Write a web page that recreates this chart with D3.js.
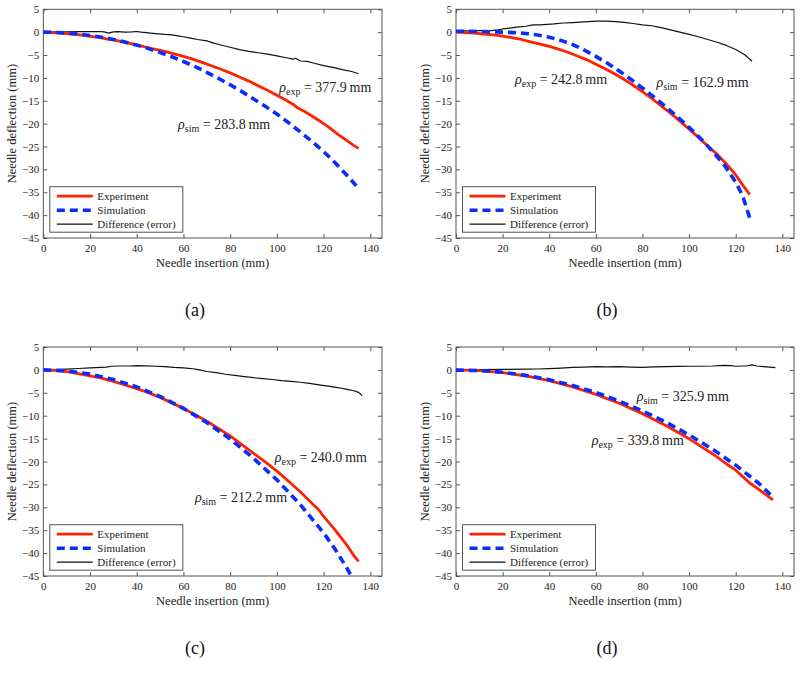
<!DOCTYPE html>
<html><head><meta charset="utf-8">
<script src="https://cdn.jsdelivr.net/npm/d3@7"></script>
<style>body{margin:0;background:#fff}svg{display:block}
svg text{font-family:"Liberation Serif","Times New Roman",Times,"DejaVu Serif",serif !important}</style>
</head><body>
<script>
// ---------- DATA ----------
const xTicks = [0, 20, 40, 60, 80, 100, 120, 140];
const yTicks = [5, 0, -5, -10, -15, -20, -25, -30, -35, -40, -45];
const seriesNames = ["Experiment", "Simulation", "Difference (error)"];
const captions = ["(a)", "(b)", "(c)", "(d)"];
const rhoExp = ["377.9", "242.8", "240.0", "339.8"];
const rhoSim = ["283.8", "162.9", "212.2", "325.9"];

const expA = [[0,0],[3,-0.05],[6,-0.15],[9,-0.25],[12,-0.4],[15,-0.55],[18,-0.75],[21,-0.95],[24,-1.15],[27,-1.45],[30,-1.7],[33,-2.0],[36,-2.35],[40,-2.8],[44,-3.3],[48,-3.75],[52,-4.2],[56,-4.75],[60,-5.3],[64,-5.9],[68,-6.6],[72,-7.35],[76,-8.1],[80,-8.9],[84,-9.8],[88,-10.7],[92,-11.7],[96,-12.7],[100,-13.8],[104,-14.9],[107,-15.8],[109,-16.6],[111,-17.1],[114,-18.0],[118,-19.3],[122,-20.7],[126,-22.3],[130,-23.7],[133,-24.8],[135,-25.4]];
const simA = [[0,0],[5,-0.04],[10,-0.18],[15,-0.4],[20,-0.71],[25,-1.1],[30,-1.59],[35,-2.17],[40,-2.83],[45,-3.59],[50,-4.44],[55,-5.38],[60,-6.41],[65,-7.54],[70,-8.77],[75,-10.1],[80,-11.5],[85,-13.0],[90,-14.6],[95,-16.2],[100,-17.9],[105,-19.8],[110,-21.8],[115,-23.9],[120,-26.1],[125,-28.6],[130,-31.3],[134,-33.6]];
const diffA = [[0,0],[5,0.05],[10,0.05],[15,0.1],[20,0.1],[24,0.15],[26,0.05],[28,-0.2],[30,0.05],[32,0.1],[35,0.0],[38,0.05],[40,0.15],[42,0.0],[45,-0.15],[48,-0.3],[52,-0.5],[55,-0.6],[57,-0.75],[60,-1.0],[63,-1.3],[66,-1.6],[70,-1.9],[73,-2.4],[76,-2.8],[80,-3.3],[84,-3.8],[88,-4.2],[92,-4.5],[96,-4.8],[100,-5.2],[104,-5.6],[107,-5.9],[108,-5.7],[110,-6.3],[113,-6.4],[116,-6.8],[120,-7.3],[124,-7.7],[128,-8.2],[132,-8.6],[135,-9.1]];

const expB = [[0,0],[4,-0.1],[8,-0.2],[12,-0.4],[16,-0.6],[20,-0.85],[24,-1.2],[28,-1.6],[32,-2.1],[36,-2.6],[40,-3.1],[44,-3.7],[48,-4.4],[52,-5.2],[56,-6.0],[60,-7.0],[64,-8.0],[68,-9.1],[72,-10.3],[76,-11.6],[80,-13.0],[84,-14.5],[88,-16.1],[92,-17.7],[96,-19.4],[100,-21.2],[104,-23.0],[108,-24.9],[112,-26.7],[116,-28.8],[120,-31.2],[123,-33.4],[125,-34.8],[126,-35.5]];
const simB = [[0,0.2],[5,0.2],[10,0.15],[15,0.1],[20,0.0],[25,-0.1],[30,-0.3],[35,-0.6],[40,-1.1],[45,-1.8],[50,-2.7],[55,-3.9],[60,-5.3],[65,-6.8],[70,-8.5],[75,-10.3],[80,-12.2],[85,-14.2],[90,-16.3],[95,-18.5],[100,-20.8],[105,-23.3],[110,-26.0],[115,-29.0],[120,-32.8],[123,-35.8],[126,-40.6]];
const diffB = [[0,0.3],[5,0.3],[10,0.35],[15,0.35],[18,0.5],[20,0.7],[23,0.9],[26,1.1],[30,1.3],[33,1.6],[36,1.6],[39,1.7],[42,1.8],[46,2.0],[50,2.1],[55,2.25],[60,2.4],[65,2.4],[70,2.25],[73,2.1],[76,1.9],[80,1.6],[84,1.4],[88,1.0],[92,0.5],[96,0.0],[100,-0.5],[104,-1.0],[108,-1.6],[112,-2.2],[116,-2.9],[120,-3.8],[124,-5.0],[126,-5.9],[127,-6.3]];

const expC = [[0,0],[5,-0.1],[10,-0.4],[15,-0.8],[20,-1.3],[25,-1.8],[30,-2.5],[35,-3.3],[40,-4.1],[45,-5.0],[50,-6.0],[55,-7.2],[60,-8.4],[65,-9.8],[70,-11.2],[75,-12.8],[80,-14.4],[85,-16.3],[90,-18.2],[95,-20.1],[100,-22.1],[105,-24.3],[110,-26.6],[115,-29.1],[118,-30.6],[120,-32.0],[125,-35.0],[130,-38.3],[133,-40.6],[135,-41.8]];
const simC = [[0,0],[10,-0.2],[20,-0.9],[30,-2.1],[40,-3.7],[50,-5.8],[60,-8.4],[70,-11.5],[80,-15.1],[90,-19.3],[100,-24.0],[110,-29.4],[120,-35.6],[125,-39.2],[130,-43.3],[133,-46.2]];
const diffC = [[0,0],[5,0.05],[10,0.15],[15,0.3],[20,0.45],[25,0.55],[27,0.6],[29,0.8],[33,0.85],[37,0.85],[40,0.95],[44,0.9],[48,0.8],[52,0.7],[56,0.55],[60,0.45],[64,0.25],[67,0.0],[70,-0.35],[74,-0.6],[78,-0.95],[82,-1.2],[86,-1.45],[90,-1.7],[94,-1.9],[98,-2.1],[102,-2.35],[106,-2.5],[110,-2.7],[114,-2.95],[118,-3.25],[122,-3.55],[126,-3.85],[130,-4.25],[133,-4.55],[135,-4.9],[136.5,-5.6]];

const expD = [[0,0],[10,-0.15],[20,-0.59],[30,-1.33],[40,-2.36],[50,-3.7],[60,-5.34],[70,-7.29],[80,-9.55],[90,-12.13],[100,-15.05],[110,-18.3],[116,-20.5],[120,-21.9],[123,-23.3],[126,-24.7],[128,-25.4],[132,-26.9],[136,-28.4]];
const simD = [[0,-0.05],[10,-0.15],[20,-0.5],[30,-1.2],[40,-2.15],[50,-3.4],[60,-4.95],[70,-6.8],[80,-8.95],[90,-11.4],[100,-14.2],[110,-17.3],[120,-20.8],[130,-24.8],[136,-27.8]];
const diffD = [[0,0],[10,0.05],[20,0.1],[30,0.15],[35,0.2],[40,0.3],[45,0.4],[50,0.55],[55,0.6],[60,0.7],[65,0.65],[70,0.7],[75,0.6],[80,0.55],[85,0.65],[90,0.7],[95,0.75],[100,0.8],[105,0.8],[110,0.85],[115,1.0],[118,0.95],[120,0.8],[123,0.85],[125,0.9],[127,1.1],[129,0.85],[132,0.7],[137,0.5]];

const panelData = [[expA, simA, diffA], [expB, simB, diffB], [expC, simC, diffC], [expD, simD, diffD]];

// ---------- LAYOUT / STYLE ----------
const W = 800, H = 685;
const layouts = [
  {left: 43.3, top: 9.3, right: 382, bottom: 238, cap: [195, 316]},
  {left: 456, top: 9.3, right: 794, bottom: 238, cap: [607, 316]},
  {left: 43.3, top: 347, right: 382, bottom: 576, cap: [195, 654]},
  {left: 456, top: 347, right: 794, bottom: 576, cap: [607, 654]}
];
// annotation anchors (data coordinates: left x, baseline y)
const labelPos = [
  {exp: [101, -13.0], sim: [57.7, -21.2]},
  {exp: [25.3, -11.3], sim: [86, -12.0]},
  {exp: [99.1, -20.1], sim: [64.9, -28.8]},
  {exp: [58.2, -16.5], sim: [77.5, -6.7]}
];
const colors = ["#ff2200", "#0a2dff", "#111"];
const widths = [2.8, 3.6, 1.2];
const dashes = [null, "8,5", null];
const serif = "Liberation Serif";
const axisCol = "#555";

const svg = d3.select("body").append("svg").attr("width", W).attr("height", H);

layouts.forEach((L, i) => {
  const x = d3.scaleLinear().domain([0, 145]).range([L.left, L.right]);
  const y = d3.scaleLinear().domain([-45, 5]).range([L.bottom, L.top]);
  const g = svg.append("g");
  const clipId = "clip" + i;
  svg.append("clipPath").attr("id", clipId).append("rect")
    .attr("x", L.left).attr("y", L.top).attr("width", L.right - L.left).attr("height", L.bottom - L.top);

  const fmt = d => d < 0 ? "\u2212" + Math.abs(d) : String(d);
  const ax = [
    g.append("g").attr("transform", `translate(0,${L.bottom})`).call(d3.axisBottom(x).tickValues(xTicks).tickSizeInner(-4).tickSizeOuter(0).tickPadding(6).tickFormat(fmt)),
    g.append("g").attr("transform", `translate(0,${L.top})`).call(d3.axisTop(x).tickValues(xTicks).tickSizeInner(-4).tickSizeOuter(0).tickFormat("")),
    g.append("g").attr("transform", `translate(${L.left},0)`).call(d3.axisLeft(y).tickValues(yTicks).tickSizeInner(-4).tickSizeOuter(0).tickPadding(4).tickFormat(fmt)),
    g.append("g").attr("transform", `translate(${L.right},0)`).call(d3.axisRight(y).tickValues(yTicks).tickSizeInner(-4).tickSizeOuter(0).tickFormat(""))
  ];
  ax.forEach(a => {
    a.attr("font-family", serif);
    a.select(".domain").remove();
    a.selectAll("line").attr("stroke", axisCol);
    a.selectAll("text").attr("font-family", serif).attr("font-size", 11).attr("fill", "#222");
  });
  g.append("rect").attr("x", L.left).attr("y", L.top).attr("width", L.right - L.left).attr("height", L.bottom - L.top)
    .attr("fill", "none").attr("stroke", axisCol).attr("stroke-width", 1);

  const line = d3.line().x(d => x(d[0])).y(d => y(d[1]));
  const lg = g.append("g").attr("clip-path", `url(#${clipId})`);
  [2, 0, 1].forEach(s => {
    lg.append("path").datum(panelData[i][s]).attr("d", line)
      .attr("fill", "none").attr("stroke", colors[s]).attr("stroke-width", widths[s])
      .attr("stroke-dasharray", dashes[s]).attr("stroke-linejoin", "round");
  });

  const ann = (pos, sub, val) => {
    const t = g.append("text").attr("x", x(pos[0])).attr("y", y(pos[1]))
      .attr("font-family", serif).attr("font-size", 14).attr("fill", "#222");
    t.append("tspan").attr("font-style", "italic").text("\u03c1");
    t.append("tspan").attr("font-size", 10).attr("dy", 3).text(sub);
    t.append("tspan").attr("dy", -3).text(" = " + val + "\u2009mm");
  };
  ann(labelPos[i].exp, "exp", rhoExp[i]);
  ann(labelPos[i].sim, "sim", rhoSim[i]);

  g.append("text").attr("x", (L.left + L.right) / 2).attr("y", L.bottom + 29)
    .attr("text-anchor", "middle").attr("font-family", serif).attr("font-size", 12.5).attr("fill", "#222")
    .text("Needle insertion (mm)");
  g.append("text").attr("transform", `translate(${L.left - 27},${(L.top + L.bottom) / 2}) rotate(-90)`)
    .attr("text-anchor", "middle").attr("font-family", serif).attr("font-size", 12.5).attr("fill", "#222")
    .text("Needle deflection (mm)");

  const lx = L.left + 6.5, ly = L.bottom - 51.3;
  const leg = g.append("g");
  leg.append("rect").attr("x", lx).attr("y", ly).attr("width", 133).attr("height", 45.5)
    .attr("fill", "#fff").attr("stroke", axisCol).attr("stroke-width", 1);
  seriesNames.forEach((n, s) => {
    const yy = ly + 9.5 + s * 14;
    leg.append("line").attr("x1", lx + 7).attr("x2", lx + 43).attr("y1", yy).attr("y2", yy)
      .attr("stroke", colors[s]).attr("stroke-width", widths[s]).attr("stroke-dasharray", dashes[s]);
    leg.append("text").attr("x", lx + 47.5).attr("y", yy + 4).attr("font-family", serif).attr("font-size", 11)
      .attr("fill", "#222").text(n);
  });

  g.append("text").attr("x", L.cap[0]).attr("y", L.cap[1]).attr("text-anchor", "middle")
    .attr("font-family", serif).attr("font-size", 18).attr("fill", "#111").text(captions[i]);
});
</script>
</body></html>
